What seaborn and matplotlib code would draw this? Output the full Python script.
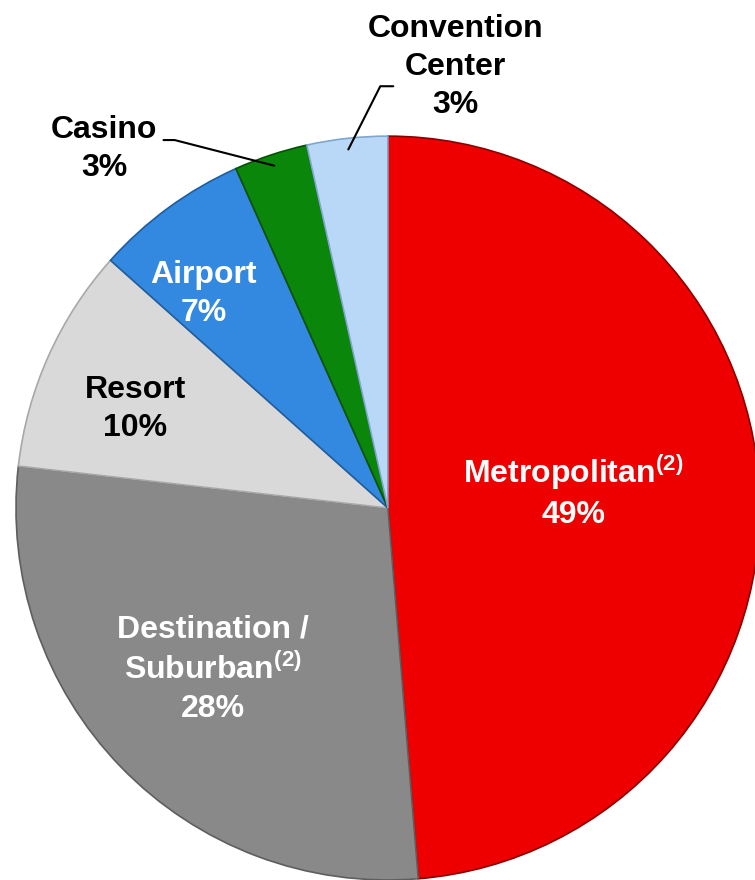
import numpy as np
import matplotlib
matplotlib.use("Agg")
import matplotlib.pyplot as plt
import seaborn as sns

# Segment shares (slice angles)
segments = ["Metropolitan", "Destination /\nSuburban", "Resort", "Airport", "Casino", "Convention\nCenter"]
shares = [48.7, 28.1, 9.8, 6.7, 3.2, 3.5]
pct_labels = ["49%", "28%", "10%", "7%", "3%", "3%"]
footnote = ["(2)", "(2)", "", "", "", ""]

colors = ["#EE0000", "#898989", "#D9D9D9", "#3388E0", "#0A870A", "#B9D8F8"]
edges = ["#8A0000", "#5E5E5E", "#A8A8A8", "#1F5E9E", "#055205", "#7FA6CC"]
text_colors = ["white", "white", "black", "white", "black", "black"]

# label placement (radius, angle offset in degrees from the slice middle)
label_pos = [(0.50, 3.0), (0.64, -1.5), (0.73, 2.7), (0.76, 4.6), (1.23, 20.0), (1.20, -15.0)]
outside = [False, False, False, False, True, True]

sns.set_theme(style="white")
plt.rcParams["font.family"] = ["Liberation Sans", "DejaVu Sans"]
plt.rcParams["mathtext.fontset"] = "custom"
plt.rcParams["mathtext.bf"] = "Liberation Sans:bold"
plt.rcParams["mathtext.rm"] = "Liberation Sans:bold"

fig = plt.figure(figsize=(7.55, 8.8), dpi=100)
ax = fig.add_axes([0, 0, 1, 1])

wedges, _ = ax.pie(shares, colors=colors, startangle=90, counterclock=False,
                   radius=1.0, wedgeprops=dict(linewidth=1.2))
for w, ec in zip(wedges, edges):
    w.set_edgecolor(ec)

for i, w in enumerate(wedges):
    mid = (w.theta1 + w.theta2) / 2
    r, off = label_pos[i]
    ang = np.deg2rad(mid + off)
    tx, ty = r * np.cos(ang), r * np.sin(ang)
    name_lines = segments[i].split("\n")
    if footnote[i]:
        name_lines[-1] = name_lines[-1] + r"$^{\mathbf{(2)}}$"
    txt = "\n".join(name_lines + [pct_labels[i]])
    ax.text(tx, ty, txt, ha="center", va="center", fontsize=23, fontweight="bold",
            color=text_colors[i], linespacing=1.35)
    if outside[i]:
        px, py = 0.97 * np.cos(np.deg2rad(mid)), 0.97 * np.sin(np.deg2rad(mid))
        if tx < px:
            ey = ty + 0.025
            ex = tx + 0.16
            ax.plot([ex, ex + 0.03, px], [ey, ey, py], color="black", lw=1.5)
        else:
            ey = ty - 0.052
            ex = tx - 0.167
            ax.plot([ex, ex - 0.035, px], [ey, ey, py], color="black", lw=1.5)

ax.set_xlim(-1.043, 0.987)
ax.set_ylim(-1.0, 1.366)
ax.set_aspect("equal")
ax.axis("off")

fig.savefig("out.png", dpi=100, facecolor="white")
